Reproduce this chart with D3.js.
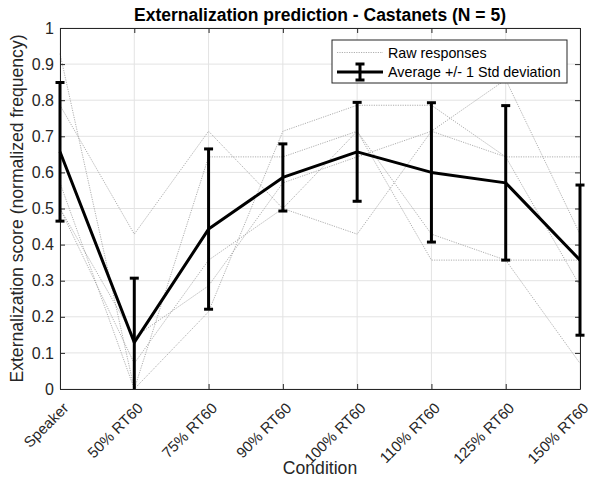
<!DOCTYPE html>
<html>
<head>
<meta charset="utf-8">
<script src="https://cdn.jsdelivr.net/npm/d3@7"></script>
<style>
  html, body { margin: 0; padding: 0; background: #fff; }
  svg { display: block; font-family: "Liberation Sans", Arial, Helvetica, sans-serif; }
</style>
</head>
<body>
<svg id="chart" width="592" height="494"></svg>
<script>
// ---- data ----
const categories = ["Speaker", "50% RT60", "75% RT60", "90% RT60", "100% RT60", "110% RT60", "125% RT60", "150% RT60"];
const subject1 = [0.929, 0.000, 0.643, 0.643, 0.714, 0.429, 0.357, 0.071];
const subject2 = [0.786, 0.429, 0.714, 0.500, 0.429, 0.714, 0.857, 0.429];
const subject3 = [0.571, 0.000, 0.214, 0.714, 0.786, 0.786, 0.643, 0.643];
const subject4 = [0.500, 0.071, 0.357, 0.500, 0.714, 0.357, 0.357, 0.357];
const subject5 = [0.500, 0.143, 0.286, 0.571, 0.643, 0.714, 0.643, 0.286];
const meanValues = [0.657, 0.129, 0.443, 0.586, 0.657, 0.600, 0.571, 0.357];
const stdValues  = [0.192, 0.178, 0.222, 0.093, 0.137, 0.193, 0.214, 0.208];
const yTicks = [0, 0.1, 0.2, 0.3, 0.4, 0.5, 0.6, 0.7, 0.8, 0.9, 1];
const yTickLabels = ["0", "0.1", "0.2", "0.3", "0.4", "0.5", "0.6", "0.7", "0.8", "0.9", "1"];
const titleText = "Externalization prediction - Castanets (N = 5)";
const xLabel = "Condition";
const yLabel = "Externalization score (normalized frequency)";
const legendLabels = ["Raw responses", "Average +/- 1 Std deviation"];

const rawSubjects = [subject1, subject2, subject3, subject4, subject5];

// ---- layout ----
const L = 60, R = 580, T = 28, B = 389;
const axisColor = "#262626";
const svg = d3.select("#chart");

svg.append("defs").append("clipPath").attr("id", "plotClip")
  .append("rect").attr("x", L - 12).attr("y", T).attr("width", R - L + 24).attr("height", B - T);

const x = d3.scalePoint().domain(categories).range([L, R]);
const y = d3.scaleLinear().domain([0, 1]).range([B, T]);

// grid
const grid = svg.append("g");
grid.selectAll("line.gy").data(yTicks).join("line")
  .attr("x1", L).attr("x2", R)
  .attr("y1", d => y(d)).attr("y2", d => y(d))
  .attr("stroke", "#e3e3e3").attr("stroke-width", 1);
grid.selectAll("line.gx").data(categories).join("line")
  .attr("x1", d => x(d)).attr("x2", d => x(d))
  .attr("y1", T).attr("y2", B)
  .attr("stroke", "#e3e3e3").attr("stroke-width", 1);

// raw response lines
const lineGen = d3.line().x((d, i) => x(categories[i])).y(d => y(d));
svg.append("g").selectAll("path").data(rawSubjects).join("path")
  .attr("d", d => lineGen(d))
  .attr("fill", "none")
  .attr("stroke", "#9a9a9a")
  .attr("stroke-width", 0.8)
  .attr("stroke-dasharray", "1.2,1.2");

// axes
function styleAxis(g) {
  g.selectAll("path.domain").attr("stroke", axisColor).attr("stroke-width", 1);
  g.selectAll(".tick line").attr("stroke", axisColor).attr("stroke-width", 1);
  g.selectAll(".tick text").attr("fill", axisColor);
}
const yAxis = svg.append("g").attr("transform", `translate(${L},0)`)
  .call(d3.axisLeft(y).tickValues(yTicks).tickFormat((d, i) => yTickLabels[i])
        .tickSizeInner(-5).tickSizeOuter(0).tickPadding(6))
  .call(styleAxis);
yAxis.selectAll(".tick text").attr("font-size", 16).attr("font-family", null);

svg.append("g").attr("transform", `translate(${R},0)`)
  .call(d3.axisRight(y).tickValues(yTicks).tickFormat("").tickSizeInner(-5).tickSizeOuter(0))
  .call(styleAxis);
svg.append("g").attr("transform", `translate(0,${T})`)
  .call(d3.axisTop(x).tickFormat("").tickSizeInner(-5).tickSizeOuter(0))
  .call(styleAxis);
const xAxis = svg.append("g").attr("transform", `translate(0,${B})`)
  .call(d3.axisBottom(x).tickSizeInner(-5).tickSizeOuter(0))
  .call(styleAxis);
xAxis.selectAll(".tick text")
  .attr("font-size", 15).attr("font-family", null)
  .attr("x", 0).attr("y", 0).attr("dy", null)
  .attr("text-anchor", "end")
  .attr("transform", "translate(9,20) rotate(-45)");

// error bars (clipped to the axes like the original)
const eb = svg.append("g").attr("clip-path", "url(#plotClip)");
const capW = 4.5;
categories.forEach((c, i) => {
  const cx = x(c), lo = y(meanValues[i] - stdValues[i]), hi = y(meanValues[i] + stdValues[i]);
  eb.append("line").attr("x1", cx).attr("x2", cx).attr("y1", lo).attr("y2", hi)
    .attr("stroke", "#000").attr("stroke-width", 3);
  eb.append("line").attr("x1", cx - capW).attr("x2", cx + capW).attr("y1", lo).attr("y2", lo)
    .attr("stroke", "#000").attr("stroke-width", 3);
  eb.append("line").attr("x1", cx - capW).attr("x2", cx + capW).attr("y1", hi).attr("y2", hi)
    .attr("stroke", "#000").attr("stroke-width", 3);
});
// mean line
svg.append("path").datum(meanValues)
  .attr("d", lineGen)
  .attr("fill", "none").attr("stroke", "#000").attr("stroke-width", 3)
  .attr("stroke-linejoin", "round");

// title and labels
svg.append("text").attr("x", (L + R) / 2).attr("y", 21)
  .attr("text-anchor", "middle").attr("font-size", 17.5).attr("font-weight", "bold")
  .attr("fill", "#000").text(titleText);
svg.append("text").attr("x", (L + R) / 2).attr("y", 474)
  .attr("text-anchor", "middle").attr("font-size", 17.6)
  .attr("fill", axisColor).text(xLabel);
svg.append("text")
  .attr("transform", `translate(23,${(T + B) / 2}) rotate(-90)`)
  .attr("text-anchor", "middle").attr("font-size", 17.6)
  .attr("fill", axisColor).text(yLabel);

// legend
const lg = svg.append("g");
lg.append("rect").attr("x", 332).attr("y", 40).attr("width", 235).attr("height", 43)
  .attr("fill", "#fff").attr("stroke", axisColor).attr("stroke-width", 1);
lg.append("line").attr("x1", 337).attr("x2", 383).attr("y1", 52.5).attr("y2", 52.5)
  .attr("stroke", "#9a9a9a").attr("stroke-width", 0.8).attr("stroke-dasharray", "1.2,1.2");
lg.append("text").attr("x", 388).attr("y", 58).attr("font-size", 14.3).attr("fill", "#000")
  .text(legendLabels[0]);
lg.append("line").attr("x1", 337).attr("x2", 383).attr("y1", 72).attr("y2", 72)
  .attr("stroke", "#000").attr("stroke-width", 3);
lg.append("line").attr("x1", 360).attr("x2", 360).attr("y1", 64).attr("y2", 80)
  .attr("stroke", "#000").attr("stroke-width", 3);
lg.append("line").attr("x1", 355.5).attr("x2", 364.5).attr("y1", 64).attr("y2", 64)
  .attr("stroke", "#000").attr("stroke-width", 3);
lg.append("line").attr("x1", 355.5).attr("x2", 364.5).attr("y1", 80).attr("y2", 80)
  .attr("stroke", "#000").attr("stroke-width", 3);
lg.append("text").attr("x", 388).attr("y", 77).attr("font-size", 14.3).attr("fill", "#000")
  .text(legendLabels[1]);
</script>
</body>
</html>
